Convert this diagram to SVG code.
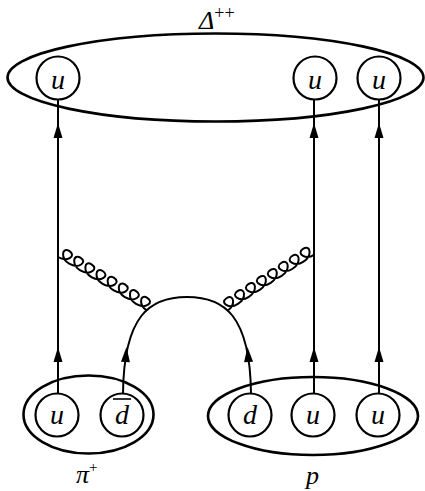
<svg xmlns="http://www.w3.org/2000/svg" xmlns:xlink="http://www.w3.org/1999/xlink" width="425" height="491" viewBox="0 0 425 491">
<style>
.hadron{fill:none;stroke:#000;stroke-width:2.6}
.q{fill:#fff;stroke:#000;stroke-width:2.2}
.ql{font-family:"Liberation Serif","Times New Roman",serif;font-style:italic;font-size:28px;text-anchor:middle;fill:#000}
.lbl{font-family:"Liberation Serif","Times New Roman",serif;font-style:italic;font-size:26px;fill:#000}
.sup{font-family:"Liberation Serif","Times New Roman",serif;font-style:normal;fill:#000}
.line{fill:none;stroke:#000;stroke-width:2}
.gluon{fill:none;stroke:#000;stroke-width:2}
</style>
<defs>
<path id="arr" d="M0 0 L-4.5 15 L4.5 15 Z" fill="#000"/>
<path id="gl" d="M0 0 c11 0 15.5 -11 6.5 -11 c-8.5 0 -4 11 6.5 11 c11 0 15.5 -11 6.5 -11 c-8.5 0 -4 11 6.5 11 c11 0 15.5 -11 6.5 -11 c-8.5 0 -4 11 6.5 11 c11 0 15.5 -11 6.5 -11 c-8.5 0 -4 11 6.5 11 c11 0 15.5 -11 6.5 -11 c-8.5 0 -4 11 6.5 11 c11 0 15.5 -11 6.5 -11 c-8.5 0 -4 11 6.5 11 c11 0 15.5 -11 6.5 -11 c-8.5 0 -4 11 6.5 11 c11 0 15.5 -11 6.5 -11 c-8.5 0 -4 11 6.5 11"/>
</defs>
<rect width="425" height="491" fill="#fff"/>

<g id="delta">
<ellipse class="hadron" cx="215.5" cy="77.5" rx="208" ry="44"/>
<text class="lbl" x="199" y="29" font-size="24">Δ<tspan class="sup" font-size="18" dy="-10">++</tspan></text>
</g>
<g id="pion">
<ellipse class="hadron" cx="88.5" cy="414.5" rx="65" ry="39"/>
<text class="lbl" x="76" y="483">π<tspan class="sup" font-size="15" dy="-11">+</tspan></text>
</g>
<g id="proton">
<ellipse class="hadron" cx="313" cy="416" rx="105" ry="39"/>
<text class="lbl" x="306" y="484">p</text>
</g>

<g id="connectors">
<line class="line" x1="58" y1="393" x2="58" y2="100"/>
<line class="line" x1="314" y1="393" x2="314" y2="100"/>
<line class="line" x1="379" y1="393" x2="379" y2="100"/>
<path class="line" d="M123 393 C124 315 150 297 187 297 C224 297 250 315 251 393"/>
<use xlink:href="#gl" class="gluon" transform="translate(58,257) rotate(31)"/>
<use xlink:href="#gl" class="gluon" transform="translate(227,311) rotate(-32.8)"/>
<use xlink:href="#arr" transform="translate(58,123)"/>
<use xlink:href="#arr" transform="translate(314,123)"/>
<use xlink:href="#arr" transform="translate(379,123)"/>
<use xlink:href="#arr" transform="translate(58,347)"/>
<use xlink:href="#arr" transform="translate(314,347)"/>
<use xlink:href="#arr" transform="translate(379,347)"/>
<use xlink:href="#arr" transform="translate(126.5,347) rotate(4)"/>
<use xlink:href="#arr" transform="translate(247.5,347) rotate(-4)"/>
</g>

<g id="u_top1"><circle class="q" cx="58" cy="78" r="21.5"/><text class="ql" x="58" y="89">u</text></g>
<g id="u_top2"><circle class="q" cx="315" cy="78" r="21.5"/><text class="ql" x="315" y="89">u</text></g>
<g id="u_top3"><circle class="q" cx="379" cy="78" r="21.5"/><text class="ql" x="379" y="89">u</text></g>
<g id="u_pi"><circle class="q" cx="57" cy="415" r="21.5"/><text class="ql" x="57" y="424">u</text></g>
<g id="dbar_pi"><circle class="q" cx="122" cy="415" r="21.5"/><text class="ql" x="122" y="424">d</text><line x1="113" y1="399" x2="131" y2="399" stroke="#000" stroke-width="1.6"/></g>
<g id="d_p"><circle class="q" cx="250" cy="415" r="21.5"/><text class="ql" x="250" y="424">d</text></g>
<g id="u_p1"><circle class="q" cx="313" cy="415" r="21.5"/><text class="ql" x="313" y="424">u</text></g>
<g id="u_p2"><circle class="q" cx="378" cy="415" r="21.5"/><text class="ql" x="378" y="424">u</text></g>
</svg>
